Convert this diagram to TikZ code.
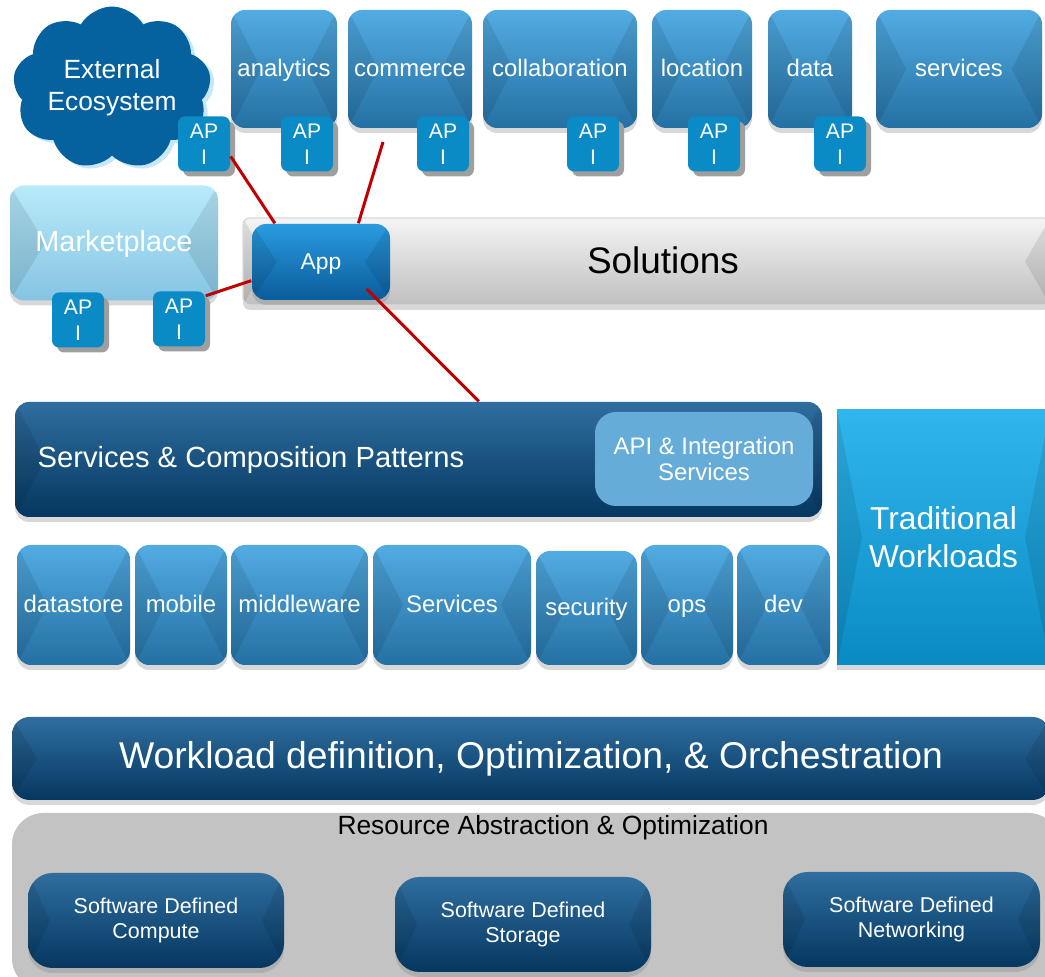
\documentclass[tikz,border=0pt]{standalone}
\usepackage{fontspec}
\setmainfont{Liberation Sans}
\usetikzlibrary{shapes.symbols}
\usetikzlibrary{shadows}

\definecolor{topA}{HTML}{52ACE2}
\definecolor{topM}{HTML}{2B78AB}
\definecolor{topB}{HTML}{2470A3}
\definecolor{apiC}{HTML}{0A8BC6}
\definecolor{darkA}{HTML}{2F6E9F}
\definecolor{darkM}{HTML}{0F4A78}
\definecolor{darkB}{HTML}{053760}
\definecolor{mktA}{HTML}{B8EAFA}
\definecolor{mktB}{HTML}{86C4E2}
\definecolor{appA}{HTML}{2A9BE0}
\definecolor{appB}{HTML}{0A5C9B}
\definecolor{tradA}{HTML}{30B6EC}
\definecolor{tradB}{HTML}{0A8AC3}
\definecolor{integC}{HTML}{66ACD8}
\definecolor{cloudC}{HTML}{05629F}
\definecolor{cloudL}{HTML}{C8E8F8}
\definecolor{linkC}{HTML}{C00000}
\definecolor{panelC}{HTML}{C3C3C3}

\begin{document}
\begin{tikzpicture}[x=0.01cm,y=-0.01cm,
	wh/.style 2 args={minimum width=(#1)*0.01cm, minimum height=(#2)*0.01cm},
	bevel/.style={path picture={
		\fill[black,opacity=.09,sharp corners] (path picture bounding box.north west) -- ([xshift=#1]path picture bounding box.west) -- (path picture bounding box.south west) -- cycle;
		\fill[black,opacity=.09,sharp corners] (path picture bounding box.north east) -- ([xshift=-#1]path picture bounding box.east) -- (path picture bounding box.south east) -- cycle;}},
	bevel/.default=0.3cm,
	blk/.style={rounded corners=4pt, inner sep=0pt, text=white,
		drop shadow={opacity=.3, shadow xshift=0cm, shadow yshift=-0.05cm}},
	topbox/.style={blk, top color=topA, middle color=topM, bottom color=topB, bevel,
		font=\fontsize{6.8}{8}\selectfont, text height=4.9pt, text depth=0.5pt},
	darkbox/.style={blk, top color=darkA, middle color=darkM, bottom color=darkB, bevel},
	apibox/.style={fill=apiC, rounded corners=2pt, wh={52}{55},
		inner sep=0pt, text=white, align=center, font=\fontsize{6}{7.4}\selectfont,
		drop shadow={fill=gray!75, opacity=1, shadow xshift=0.05cm, shadow yshift=-0.05cm}},
	link/.style={draw=linkC, line width=0.85pt}
	]
\useasboundingbox (0,0) rectangle (1045,977);
\clip (0,0) rectangle (1045,977);
\fill[white] (0,0) rectangle (1045,977);

% top row
\node[cloud, cloud puffs=9, cloud puff arc=120, aspect=1.35, fill=cloudC, inner sep=0pt,
	minimum width=1.72cm, minimum height=1.32cm, text=white, align=center,
	font=\fontsize{7.5}{9.1}\selectfont,
	drop shadow={fill=cloudL, opacity=1, shadow xshift=0.04cm, shadow yshift=-0.03cm}]
	(eco) at (112,88) {External\\Ecosystem};

\foreach \a/\b/\t [count=\i] in {231/337/analytics, 348/472/commerce, 483/637/collaboration,
	652/752/location, 768/852/data, 876/1042/services}
	\node[topbox, wh={\b-\a}{118}] (top\i) at ({(\a+\b)/2},69) {\t};

\foreach \x [count=\i] in {204,307,443,593,714,840}
	\node[apibox] (api\i) at (\x,144) {AP\\I};

% marketplace and solutions
\node[blk, top color=mktA, bottom color=mktB, bevel=0.35cm, wh={208}{115},
	font=\fontsize{8.2}{10}\selectfont, text height=5.9pt, text depth=0.8pt]
	(mkt) at (114,243) {Marketplace};
\node[apibox] (api7) at (78,320) {AP\\I};
\node[apibox] (api8) at (179,319) {AP\\I};

\node[blk, rounded corners=2pt, draw=gray!30, top color=gray!8, middle color=gray!42,
	bottom color=gray!50, bevel=0.25cm, wh={807}{87}] (sol) at (646.5,261.5) {};
\node[font=\fontsize{10.5}{12}\selectfont] (soltxt) at (663,260) {Solutions};

\node[blk, top color=appA, bottom color=appB, bevel=0.25cm, wh={138}{76},
	font=\fontsize{6.5}{8}\selectfont, text height=4.7pt, text depth=0.7pt]
	(app) at (321,262) {App};

% services and composition
\node[darkbox, wh={807}{115}] (scp) at (418.5,459.5) {};
\node[anchor=west, inner sep=0pt, text=white, font=\fontsize{8.3}{10}\selectfont]
	(scptxt) at (37,460) {Services \& Composition Patterns};
\node[fill=integC, rounded corners=6pt, inner sep=0pt, text=white, align=center,
	font=\fontsize{6.8}{7.4}\selectfont, wh={218}{94}] (integ) at (704,459)
	{API \& Integration\\Services};

\node[blk, rounded corners=0pt, top color=tradA, middle color=tradB, bottom color=tradB,
	bevel=0.25cm, wh={213}{255}, align=center, font=\fontsize{9}{10.8}\selectfont]
	(trad) at (943.5,537.5) {Traditional\\Workloads};

\foreach \a/\b/\c/\t [count=\i] in {17/130/545/datastore, 135/227/545/mobile,
	231/368/545/middleware, 373/531/545/Services, 536/637/551/security,
	641/733/545/ops, 737/830/545/dev}
	\node[topbox, wh={\b-\a}{665-\c}] (svc\i) at ({(\a+\b)/2},{(\c+665)/2}) {\t};

% workload and resources
\node[darkbox, rounded corners=5pt, bevel=0.25cm, wh={1038}{83},
	font=\fontsize{10.6}{12}\selectfont] (wl) at (531,758.5)
	{Workload definition, Optimization, \& Orchestration};

\node[fill=panelC, rounded corners=9pt, wh={1048}{177}, inner sep=0pt] (res) at (536,901.5) {};
\node[font=\fontsize{7.5}{9}\selectfont] (restxt) at (553,828)
	{Resource Abstraction \& Optimization};

\foreach \a/\b/\c/\t [count=\i] in {28/284/873/Compute, 395/651/877/Storage,
	783/1040/872/Networking}
	\node[darkbox, rounded corners=7pt, bevel=0.22cm, wh={\b-\a}{95}, align=center,
		font=\fontsize{6.1}{6.9}\selectfont] (sd\i) at ({(\a+\b)/2},\c+47.5)
		{Software Defined\\\t};

% links
\coordinate (cmc) at (383,142);
\draw[link] (api1.-25) -- (app.140);
\draw[link] (cmc) -- (app.46);
\draw[link] (api8.41) -- (app.195);
\draw[link, shorten <=-0.167cm] (app.-34) -- (scp.44);
\end{tikzpicture}
\end{document}
